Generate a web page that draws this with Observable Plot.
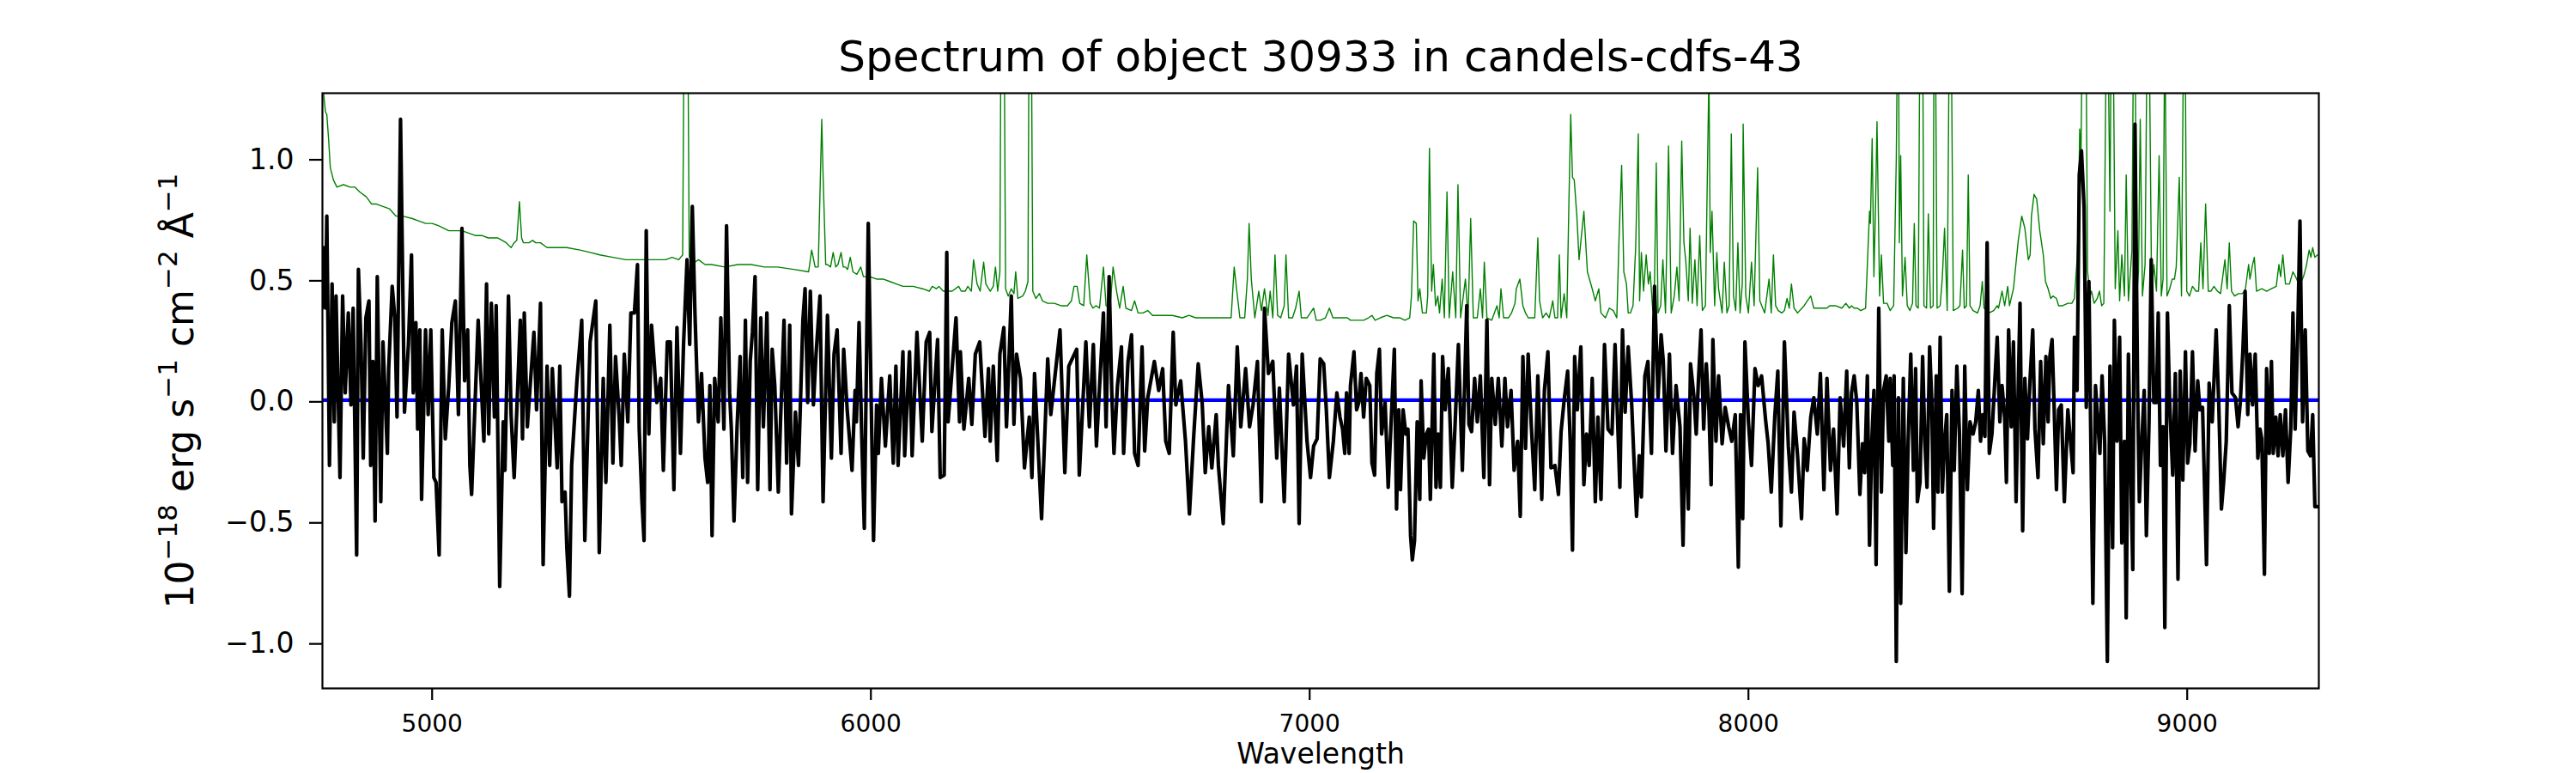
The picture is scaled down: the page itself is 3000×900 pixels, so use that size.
<!DOCTYPE html>
<html><head><meta charset="utf-8">
<script src="https://cdn.jsdelivr.net/npm/d3@7"></script>
<script src="https://cdn.jsdelivr.net/npm/@observablehq/plot@0.6"></script>
<style>body{margin:0;background:#fff}</style>
</head><body><div id="chart"></div>
<script>
const titleText = "Spectrum of object 30933 in candels-cdfs-43";
const xLabel = "Wavelength";
const yLabel = "10⁻¹⁸ erg s⁻¹ cm⁻² Å⁻¹";
const yLabelParts = [["10", false], ["−18", true], [" erg s", false], ["−1", true], [" cm", false], ["−2", true], [" Å", false], ["−1", true]];
const xTicks = [5000, 6000, 7000, 8000, 9000];
const yTicks = [-1.0, -0.5, 0.0, 0.5, 1.0];

const specWave = [4749,4753,4757,4760,4766,4772,4777,4781,4790,4796,4802,4809,4815,4820,4828,4832,4838,4843,4849,4856,4860,4865,4870,4875,4883,4888,4898,4901,4909,4915,4920,4928,4937,4946,4953,4957,4963,4967,4972,4976,4985,4991,4997,5004,5009,5016,5023,5030,5038,5045,5053,5060,5068,5074,5081,5086,5090,5105,5118,5124,5129,5135,5142,5146,5154,5162,5166,5174,5180,5187,5201,5206,5210,5217,5232,5238,5247,5253,5262,5268,5274,5285,5291,5296,5303,5307,5313,5318,5330,5341,5348,5360,5373,5381,5390,5396,5405,5412,5418,5426,5431,5438,5446,5453,5461,5468,5472,5478,5483,5488,5494,5500,5506,5512,5521,5527,5536,5543,5551,5558,5566,5573,5581,5587,5593,5599,5607,5614,5622,5628,5633,5638,5644,5652,5658,5665,5671,5678,5682,5688,5695,5702,5708,5714,5719,5725,5730,5736,5742,5749,5755,5763,5770,5775,5781,5789,5794,5802,5808,5815,5819,5828,5835,5839,5845,5850,5856,5862,5869,5875,5884,5891,5901,5910,
5916,5923,5932,5938,5946,5957,5964,5967,5973,5979,5985,5994,6006,6013,6017,6024,6033,6043,6051,6057,6062,6073,6077,6088,6094,6105,6117,6126,6134,6139,6152,6158,6167,6173,6176,6194,6202,6204,6212,6223,6230,6238,6248,6260,6268,6272,6279,6288,6294,6303,6309,6320,6326,6332,6341,6350,6361,6367,6373,6389,6403,6410,6431,6442,6451,6469,6475,6490,6498,6507,6514,6530,6536,6543,6549,6554,6562,6571,6576,6586,6594,6601,6609,6618,6624,6631,6646,6656,6665,6672,6680,6689,6695,6706,6717,6726,6736,6746,6755,6762,6770,6777,6787,6792,6803,6815,6826,6835,6843,6854,6863,6871,6881,6890,6897,6906,6916,6925,6931,6942,6952,6963,6970,6976,6983,6994,7002,7009,7017,7024,7032,7038,7045,7054,7062,
7069,7075,7080,7084,7090,7093,7101,7107,7112,7117,7123,7129,7137,7142,7148,7153,7159,7164,7172,7179,7185,7193,7198,7203,7207,7213,7219,7224,7230,7234,7239,7245,7251,7254,7260,7266,7271,7275,7283,7288,7293,7298,7303,7309,7316,7325,7331,7339,7348,7358,7363,7369,7376,7382,7389,7397,7404,7410,7415,7423,7430,7438,7445,7451,7459,7466,7474,7480,7486,7492,7498,7505,7513,7520,7529,7535,7543,7550,7559,7567,7573,7580,7588,7594,7599,7604,7610,7618,7625,7631,7637,7644,7651,7657,7664,7672,7680,7689,7696,7707,7713,7719,7726,7734,7739,7745,7751,7756,7764,7771,7779,7786,7794,7801,7806,7812,7820,7827,7835,7844,7851,7857,7863,7868,7876,7881,7886,7892,7898,7904,7910,7915,7919,7926,7932,7940,7947,7955,7962,7970,7977,7982,7987,7992,8000,8007,8015,8022,8030,8039,8045,8052,8060,8067,8074,8082,8091,8098,8104,8112,8121,8127,8134,8142,8149,8157,8164,8172,8179,8187,8194,8202,8209,8217,
8224,8230,8235,8241,8247,8254,8260,8265,8271,8276,8281,8286,8291,8297,8303,8308,8314,8320,8323,8329,8332,8337,8342,8347,8353,8359,8364,8370,8376,8381,8385,8391,8397,8402,8407,8413,8418,8422,8428,8432,8437,8442,8447,8452,8458,8464,8469,8475,8481,8487,8493,8499,8505,8512,8518,8524,8529,8534,8539,8544,8549,8555,8561,8567,8573,8578,8584,8588,8593,8599,8604,8610,8615,8619,8625,8630,8636,8642,8648,8653,8660,8666,8672,8678,8683,8687,8692,8696,8702,8707,8713,8720,8728,8735,8740,8743,8749,8754,8759,8765,8770,8776,8780,8785,8791,8797,8801,8806,8812,8818,8824,8830,8834,8840,8846,8851,8857,8861,8866,8871,8876,8881,8887,8891,8896,8902,8907,8913,8918,8924,8930,8934,8939,8945,8949,8955,8960,8967,8973,8979,8984,8990,8996,9001,9006,9012,9018,9024,9029,9035,9044,9050,9057,9066,9072,9078,9083,9089,9096,9102,9110,9116,9121,9127,9132,9138,9143,9149,9155,9161,9166,9170,9176,9181,9187,9192,9196,9202,9207,9212,9218,9224,9230,9236,9241,9246,9252,9257,9263,9269,9275,9281,9286,9291,9297];
const specFlux = [0.38,0.63,0.38,0.76,-0.27,0.48,-0.09,0.43,-0.32,0.43,0.03,0.36,-0.02,0.38,-0.64,0.54,0.23,-0.24,0.34,0.41,-0.27,0.16,-0.50,0.51,-0.42,0.24,-0.22,0.13,0.47,0.34,-0.07,1.16,-0.05,0.23,0.60,0.03,0.32,-0.12,0.29,-0.41,0.29,-0.06,0.29,-0.32,-0.34,-0.64,0.29,-0.16,0.06,0.32,0.41,-0.06,0.71,0.08,0.29,-0.27,-0.39,0.33,-0.17,0.48,-0.14,0.40,-0.07,0.39,-0.77,-0.09,-0.29,0.43,-0.06,-0.32,0.33,-0.16,0.36,-0.11,0.28,-0.04,0.40,-0.68,0.14,-0.27,0.13,-0.28,0.14,-0.42,-0.38,-0.61,-0.81,-0.27,0.08,0.33,-0.58,0.24,0.41,-0.63,0.09,-0.34,0.31,-0.26,0.18,-0.06,-0.27,0.19,-0.09,0.36,0.36,0.56,-0.12,-0.41,-0.58,0.70,-0.14,0.31,0.16,-0.01,0.09,-0.29,0.24,0.24,-0.37,0.30,-0.22,0.23,0.58,0.23,0.80,0.36,-0.09,0.11,-0.24,-0.34,0.06,-0.56,0.09,-0.09,0.34,-0.12,0.72,0.03,-0.12,-0.50,-0.11,0.18,-0.32,0.33,-0.34,0.16,0.28,0.51,-0.37,0.34,-0.11,0.36,-0.37,0.21,0.06,-0.38,-0.09,0.33,-0.26,0.31,-0.47,-0.05,-0.27,-0.04,0.33,0.46,-0.01,0.45,-0.02,0.19,0.43,-0.42,0.35,-0.24,
0.19,0.29,-0.22,0.21,-0.04,-0.29,0.04,-0.09,0.32,-0.14,-0.53,0.73,-0.58,-0.02,-0.22,0.09,-0.19,0.10,-0.26,0.14,-0.27,0.20,-0.23,0.20,-0.23,0.28,-0.17,0.24,0.28,-0.13,0.25,-0.32,-0.31,0.61,-0.09,0.34,-0.09,0.20,-0.12,0.09,-0.10,0.19,0.24,-0.15,0.13,-0.17,0.14,-0.25,0.19,0.30,-0.11,0.43,-0.10,0.19,0.09,-0.28,-0.07,-0.32,0.11,-0.49,0.17,-0.06,0.29,-0.30,0.14,0.21,-0.31,0.24,-0.11,0.23,-0.19,0.36,-0.11,0.51,0.03,-0.22,0.06,0.22,-0.22,0.16,0.27,-0.22,-0.27,0.22,-0.21,0.01,0.16,0.04,0.13,-0.17,-0.22,0.28,-0.02,0.08,-0.17,-0.47,-0.14,0.15,-0.01,-0.30,-0.11,-0.28,-0.06,-0.27,-0.51,0.06,-0.23,0.22,-0.11,0.13,-0.11,-0.02,0.16,-0.42,0.38,0.11,0.16,-0.24,0.05,-0.42,0.19,-0.02,0.14,-0.51,0.19,-0.17,-0.32,-0.19,-0.16,0.17,0.15,-0.04,-0.32,-0.17,0.03,
-0.07,-0.12,-0.22,0.03,-0.22,0.06,0.20,-0.04,-0.01,0.11,-0.07,0.09,0.06,-0.26,-0.31,0.11,0.21,-0.14,-0.01,-0.36,-0.12,0.21,-0.45,-0.04,-0.37,-0.04,-0.14,-0.12,-0.56,-0.66,-0.58,-0.09,-0.41,0.08,-0.24,-0.14,-0.12,-0.41,0.19,-0.36,-0.14,-0.36,0.18,-0.04,0.13,-0.36,-0.12,0.23,-0.29,0.39,-0.10,-0.13,0.09,-0.09,0.10,-0.32,0.33,-0.35,0.09,-0.10,0.09,-0.19,0.09,-0.11,0.04,-0.29,-0.17,-0.48,0.18,-0.20,0.19,-0.10,-0.37,0.10,-0.41,0.04,0.20,-0.28,-0.27,-0.39,-0.13,0.00,0.12,-0.18,-0.62,0.18,-0.04,0.22,-0.35,-0.14,-0.27,0.09,-0.42,-0.07,-0.41,0.23,-0.12,-0.14,0.23,-0.36,0.29,-0.05,0.22,-0.02,-0.24,-0.48,-0.23,-0.40,0.10,0.16,-0.22,0.47,0.01,0.27,0.16,-0.21,0.19,-0.22,0.06,-0.11,-0.60,-0.01,-0.45,0.15,0.01,-0.14,0.08,0.29,-0.12,0.15,-0.04,-0.35,0.25,-0.17,0.10,-0.18,-0.03,-0.11,-0.17,-0.06,-0.69,-0.06,-0.49,0.24,-0.09,-0.27,0.13,0.06,0.10,-0.08,-0.18,-0.38,-0.07,0.12,-0.52,0.24,-0.19,-0.38,-0.05,-0.23,-0.49,-0.16,-0.29,-0.07,0.01,-0.14,0.11,-0.37,0.09,-0.29,-0.12,-0.47,0.01,-0.19,
0.12,-0.28,0.03,0.10,-0.01,-0.39,-0.18,-0.30,0.10,-0.60,-0.18,0.04,-0.68,0.38,-0.38,0.04,0.10,-0.17,0.09,-0.27,0.10,-1.08,0.01,-0.84,0.09,-0.63,-0.17,0.19,-0.29,0.13,-0.42,-0.34,0.18,-0.17,-0.36,0.22,-0.01,-0.53,0.10,-0.38,0.26,-0.38,-0.17,-0.06,-0.79,0.04,-0.29,0.14,-0.14,-0.80,0.14,-0.37,-0.09,-0.14,-0.09,0.04,-0.17,-0.06,-0.15,0.65,-0.22,-0.14,0.06,0.26,-0.09,0.06,-0.07,-0.34,0.29,-0.11,0.24,-0.42,0.06,0.40,-0.54,0.09,-0.16,0.09,0.29,-0.12,-0.32,0.16,-0.18,0.18,-0.09,0.18,0.25,0.02,-0.37,-0.04,-0.02,-0.42,-0.04,-0.19,-0.30,0.26,0.04,0.93,1.03,0.80,-0.03,0.49,-0.11,-0.84,0.06,-0.11,-0.22,0.10,-0.18,-1.08,0.14,-0.61,0.33,-0.17,0.26,-0.59,-0.17,-0.90,0.19,-0.27,-0.70,1.14,0.04,-0.42,-0.19,0.04,-0.56,-0.09,0.58,-0.01,-0.01,0.36,-0.27,-0.11,-0.94,0.36,-0.01,-0.31,0.11,-0.74,0.12,-0.33,0.20,-0.26,-0.18,0.20,-0.21,0.08,-0.04,-0.03,-0.68,0.07,-0.09,0.29,-0.02,-0.45,-0.34,-0.17,0.39,0.03,0.01,-0.11,-0.01,0.21,0.45,-0.06,0.19,-0.02,0.19,-0.24,-0.12,-0.16,-0.72,0.13,-0.22,0.16,-0.22,-0.07,-0.23,-0.06,-0.23,-0.04,-0.34,-0.12,0.36,-0.12,0.29,0.74,-0.09,0.29,-0.21,-0.23,-0.06,-0.44,-0.44];

const skyWave = [4749,4753,4757,4760,4764,4768,4775,4783,4798,4813,4824,4835,4850,4862,4873,4888,4903,4918,4933,4955,4970,4985,5000,5015,5038,5053,5068,5083,5098,5113,5128,5150,5169,5180,5187,5193,5199,5204,5208,5221,5229,5236,5247,5262,5277,5307,5337,5360,5382,5412,5442,5472,5502,5532,5547,5562,5571,5575,5582,5586,5599,5607,5622,5637,5667,5697,5727,5757,5787,5824,5858,5865,5873,5880,5888,5891,5897,5901,5908,5914,5920,5925,5932,5937,5942,5947,5953,5959,5968,5977,5983,5998,6013,6028,6043,6058,6073,6096,6118,6133,6140,6149,6155,6165,6185,6200,6206,6215,6221,6229,6234,6242,6249,6257,6262,6272,6279,6284,6289,6294,6297,6303,6307,6313,6320,6326,6330,6335,6346,6352,6358,6361,6365,6369,6376,6384,6391,6403,6418,6433,6448,6457,6463,6470,6476,6485,6492,6500,6506,6513,6521,6530,6536,6545,6552,6560,6567,6575,6581,6594,6601,6609,6620,6631,6642,6665,6687,6710,6725,6740,6762,6785,6807,6821,6828,6834,6841,6852,6858,6862,6867,6875,6884,6890,6897,6905,6910,6916,6921,6927,6934,6942,6946,6952,6961,6968,6976,6981,6994,7009,7015,7024,7036,7045,7053,7062,
7071,7086,7093,7108,7123,7134,7142,7149,7161,7176,7191,7206,7217,7228,7232,7237,7243,7247,7251,7257,7266,7269,7273,7278,7282,7287,7292,7296,7302,7307,7313,7318,7326,7333,7338,7344,7355,7361,7367,7373,7382,7389,7394,7398,7404,7415,7427,7432,7436,7442,7453,7460,7468,7471,7479,7486,7492,7498,7513,7520,7524,7531,7539,7546,7554,7559,7565,7569,7573,7580,7586,7591,7595,7599,7603,7609,7614,7625,7633,7644,7651,7659,7664,7674,7683,7692,7700,7705,7711,7716,7722,7726,7731,7737,7743,7749,7752,7756,7761,7767,7772,7776,7782,7786,7790,7794,7800,7805,7811,7818,7824,7831,7837,7842,7848,7853,7857,7863,7867,7872,7878,7883,7889,7895,7902,7907,7910,7913,7917,7923,7928,7932,7940,7945,7951,7956,7961,7966,7971,7976,7981,7986,7988,7994,8000,8007,8013,8021,8026,8037,8047,8052,8057,8062,8068,8076,8082,8088,8093,8098,8104,8112,8127,8134,8142,8149,8164,8179,8185,8198,8213,
8222,8230,8235,8241,8248,8256,8267,8272,8276,8278,8282,8286,8290,8293,8299,8303,8308,8316,8323,8331,8337,8340,8342,8344,8347,8351,8357,8362,8368,8374,8378,8382,8387,8391,8397,8400,8406,8410,8415,8421,8423,8426,8430,8437,8442,8447,8453,8458,8462,8467,8477,8482,8488,8492,8497,8501,8505,8512,8522,8528,8533,8537,8548,8559,8567,8570,8578,8584,8591,8595,8604,8615,8623,8630,8638,8642,8645,8651,8657,8664,8672,8677,8683,8689,8694,8702,8707,8716,8728,8737,8743,8749,8752,8755,8758,8761,8769,8773,8779,8782,8788,8795,8800,8805,8810,8816,8819,8824,8827,8831,8836,8842,8846,8851,8857,8861,8866,8874,8878,8881,8885,8889,8893,8898,8904,8909,8913,8919,8924,8930,8936,8941,8945,8949,8954,8960,8966,8971,8975,8982,8987,8992,8995,8999,9005,9012,9020,9026,9031,9036,9042,9048,9054,9061,9069,9076,9086,9091,9096,9101,9108,9117,9125,9132,9140,9143,9149,9153,9158,9170,9181,9192,9203,9209,9213,9218,9224,9233,9241,9247,9254,9260,9265,9271,9278,9282,9286,9291,9297];
const skyFlux = [1.40,1.26,1.19,1.18,1.08,0.96,0.91,0.88,0.89,0.88,0.88,0.86,0.84,0.81,0.81,0.80,0.79,0.76,0.76,0.75,0.74,0.73,0.73,0.72,0.70,0.70,0.70,0.69,0.68,0.68,0.67,0.67,0.65,0.63,0.65,0.66,0.82,0.67,0.65,0.65,0.66,0.65,0.65,0.63,0.63,0.63,0.62,0.61,0.60,0.59,0.58,0.58,0.58,0.58,0.59,0.58,0.60,1.8,1.8,0.59,0.57,0.58,0.56,0.56,0.55,0.56,0.56,0.55,0.55,0.54,0.53,0.62,0.55,0.55,1.16,0.93,0.56,0.56,0.55,0.61,0.55,0.56,0.61,0.55,0.55,0.54,0.59,0.53,0.52,0.55,0.51,0.51,0.50,0.50,0.49,0.48,0.47,0.47,0.46,0.45,0.47,0.46,0.47,0.45,0.45,0.47,0.45,0.45,0.47,0.45,0.58,0.48,0.45,0.57,0.48,0.45,0.47,0.55,0.45,0.53,1.8,1.8,0.46,0.43,0.46,0.44,0.53,0.42,0.43,0.45,0.49,1.8,1.8,0.45,0.42,0.44,0.41,0.40,0.40,0.39,0.39,0.41,0.47,0.47,0.40,0.39,0.60,0.40,0.38,0.39,0.38,0.55,0.39,0.38,0.55,0.45,0.38,0.47,0.38,0.37,0.41,0.36,0.36,0.37,0.35,0.35,0.35,0.34,0.35,0.34,0.34,0.34,0.34,0.34,0.55,0.45,0.34,0.34,0.50,0.73,0.50,0.34,0.45,0.37,0.46,0.35,0.45,0.34,0.60,0.35,0.34,0.39,0.60,0.34,0.34,0.38,0.45,0.34,0.34,0.38,0.33,0.33,0.34,0.38,0.34,0.34,
0.34,0.34,0.33,0.33,0.33,0.34,0.35,0.33,0.34,0.35,0.34,0.34,0.33,0.34,0.43,0.74,0.73,0.41,0.46,0.36,0.36,0.43,1.04,0.45,0.56,0.39,0.43,0.36,0.50,0.34,0.86,0.34,0.53,0.34,0.89,0.34,0.50,0.34,0.75,0.34,0.34,0.46,0.34,0.57,0.34,0.33,0.39,0.34,0.46,0.34,0.34,0.36,0.40,0.46,0.50,0.39,0.36,0.34,0.34,0.67,0.41,0.34,0.36,0.34,0.41,0.34,0.34,0.60,0.34,0.44,0.34,0.83,1.18,0.92,0.91,0.76,0.58,0.78,0.53,0.46,0.41,0.46,0.36,0.34,0.38,0.37,0.34,0.66,0.97,0.53,0.48,0.36,0.36,0.39,0.63,1.10,0.41,0.61,0.45,0.60,0.48,0.53,0.37,0.49,0.98,0.36,0.39,0.58,0.36,1.05,0.36,0.43,0.55,0.41,1.07,0.65,0.58,0.41,0.71,0.40,0.58,0.39,0.68,0.37,0.39,1.0,1.35,0.61,0.78,0.39,0.61,0.46,0.36,0.57,0.36,0.39,1.10,0.43,0.37,0.65,0.36,0.48,1.14,0.43,0.36,0.57,0.39,0.96,0.41,0.36,0.50,0.36,0.60,0.39,0.37,0.36,0.37,0.42,0.38,0.48,0.38,0.36,0.39,0.41,0.43,0.38,0.38,0.38,0.39,0.39,0.38,
0.40,0.38,0.39,0.38,0.38,0.37,0.38,0.60,0.78,0.73,1.08,0.51,0.83,1.15,0.43,0.60,0.40,0.40,0.37,0.39,1.00,1.6,1.6,0.65,1.01,0.43,0.59,0.39,0.37,0.40,0.73,0.39,0.38,1.6,1.6,0.39,0.38,0.77,0.38,0.39,1.6,1.6,0.38,0.39,0.51,0.71,0.37,1.6,1.6,0.37,0.38,0.39,0.62,0.38,0.39,0.93,0.39,0.37,0.36,0.39,0.49,0.38,0.36,0.37,0.39,0.38,0.45,0.39,0.47,0.39,0.46,0.66,0.76,0.71,0.58,0.60,0.76,0.85,0.83,0.70,0.60,0.49,0.46,0.42,0.43,0.42,0.39,0.39,0.40,0.40,0.42,0.58,0.75,1.12,1.01,1.6,1.6,0.53,0.43,0.45,0.40,0.42,0.45,0.39,0.40,1.6,1.6,0.78,1.6,1.6,0.46,0.70,0.41,0.60,0.43,0.93,0.41,0.62,1.6,1.6,0.43,0.53,1.16,0.43,0.56,1.6,1.6,0.43,0.56,0.45,1.01,0.43,0.50,1.6,0.43,0.46,0.50,0.50,0.55,0.92,0.43,1.6,1.6,0.45,0.43,0.47,0.45,0.45,0.65,0.46,0.81,0.45,0.45,0.47,0.45,0.44,0.58,0.46,0.65,0.45,0.43,0.44,0.44,0.45,0.56,0.50,0.56,0.59,0.45,0.46,0.45,0.46,0.47,0.56,0.51,0.60,0.48,0.48,0.53,0.51,0.48,0.49,0.51,0.55,0.62,0.59,0.63,0.59,0.60];

const modelWave = [4750, 9300];
const modelFlux = [0, 0];

const spec = specWave.map((w, i) => ({w, f: specFlux[i]}));
const sky = skyWave.map((w, i) => ({w, f: skyFlux[i]}));
const model = modelWave.map((w, i) => ({w, f: modelFlux[i]}));

const plot = Plot.plot({
  width: 3000, height: 900,
  marginLeft: 375, marginRight: 300, marginTop: 108, marginBottom: 99,
  style: {fontFamily: "DejaVu Sans", background: "white", color: "black", overflow: "visible"},
  x: {domain: [4750, 9300]},
  y: {domain: [-1.191, 1.268]},
  marks: [
    Plot.line(sky, {x: "w", y: "f", stroke: "#008000", strokeWidth: 1.4, clip: true}),
    Plot.line(model, {x: "w", y: "f", stroke: "#0000ff", strokeWidth: 4.4, clip: true}),
    Plot.line(spec, {x: "w", y: "f", stroke: "#000000", strokeWidth: 4.2, clip: true}),
    Plot.frame({stroke: "black", strokeWidth: 2.2}),
    Plot.axisX({ticks: xTicks, tickSize: 14, tickPadding: 17, fontSize: 28, strokeWidth: 2.2, label: null, tickFormat: d => String(d)}),
    Plot.axisY({ticks: yTicks, tickSize: 15, tickPadding: 18, fontSize: 33, strokeWidth: 2.2, label: null, tickFormat: d3.format(".1f"), dy: 2}),
    Plot.text([titleText], {frameAnchor: "top", dy: -26, lineAnchor: "bottom", textAnchor: "middle", fontSize: 50, text: d => d, fill: "black"}),
    Plot.text([xLabel], {frameAnchor: "bottom", dy: 87, lineAnchor: "bottom", textAnchor: "middle", fontSize: 33, text: d => d, fill: "black"}),
    Plot.text([yLabel], {frameAnchor: "left", dx: -151, rotate: -90, lineAnchor: "bottom", textAnchor: "middle", fontSize: 44, text: d => d, fill: "black"})
  ]
});
// render the y label superscripts the way the reference does (smaller, raised)
d3.select(plot).selectAll("text").filter(function () { return this.textContent === yLabel; }).each(function () {
  const t = d3.select(this);
  t.text(null);
  let raised = false;
  yLabelParts.forEach(([s, sup]) => {
    const ts = t.append("tspan").text(s);
    if (sup && !raised) { ts.attr("font-size", "31").attr("dy", "-19"); raised = true; }
    else if (!sup && raised) { ts.attr("dy", "19"); raised = false; }
    else if (sup) ts.attr("font-size", "31");
  });
});
document.getElementById("chart").appendChild(plot);
</script>
</body></html>
